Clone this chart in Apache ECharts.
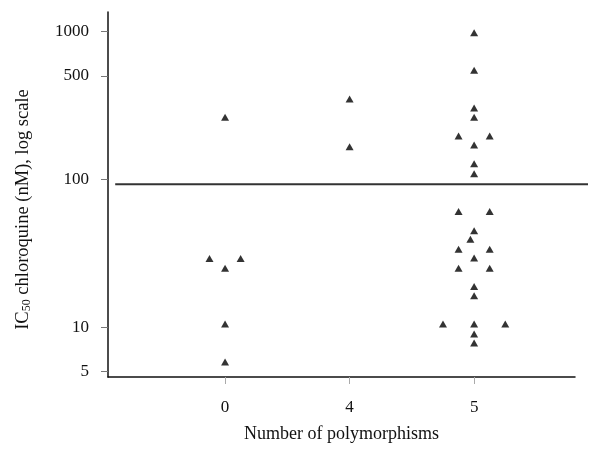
<!DOCTYPE html>
<html>
<head>
<meta charset="utf-8">
<script src="https://cdn.jsdelivr.net/npm/echarts@6/dist/echarts.min.js"></script>
<style>
  html, body { margin: 0; padding: 0; background: #fff; }
  #main { width: 600px; height: 453px; }
</style>
</head>
<body>
<div id="main"></div>
<script>
// categories (number of polymorphisms) and their slot on the x axis
var groups = ['0', '4', '5'];
var groupPos = [1, 2, 3];

// IC50 values per group, with small horizontal jitter so overlapping points show
var g0Values  = [262, 29.1, 29.1, 25, 10.5, 5.8];
var g0Jitter  = [0, -0.125, 0.125, 0, 0, 0];
var g4Values  = [349, 166];
var g4Jitter  = [0, 0];
var g5Values  = [978, 545, 303, 262, 196, 196, 170, 127, 109,
                 60.4, 60.4, 44.9, 39.3, 33.6, 33.6, 29.3, 25, 25,
                 18.8, 16.3, 10.5, 10.5, 10.5, 9.0, 7.8];
var g5Jitter  = [0, 0, 0, 0, -0.125, 0.125, 0, 0, 0,
                 -0.125, 0.125, 0, -0.03, -0.125, 0.125, 0, -0.125, 0.125,
                 0, 0, -0.25, 0, 0.25, 0, 0];

// y tick labels and cut-off line (drawn on its own wider grid, runs past the x axis)
var yTicks = [5, 10, 100, 500, 1000];
var cutoff = 92.5;
var cutoffX = [0.015, 1];

var allValues = [g0Values, g4Values, g5Values];
var allJitter = [g0Jitter, g4Jitter, g5Jitter];

var points = [];
for (var g = 0; g < allValues.length; g++) {
    for (var i = 0; i < allValues[g].length; i++) {
        points.push([groupPos[g] + allJitter[g][i], allValues[g][i]]);
    }
}

var myChart = echarts.init(document.getElementById('main'));
var font = 'Liberation Serif';

var option = {
    animation: false,
    grid: [
        { left: 108, right: 25, top: 12, bottom: 76 },
        { left: 108, right: 12, top: 12, bottom: 76 }
    ],
    xAxis: [{
        type: 'value',
        min: 0.06,
        max: 3.81,
        name: 'Number of polymorphisms',
        nameLocation: 'middle',
        nameGap: 48,
        nameTextStyle: { fontFamily: font, fontSize: 18, color: '#111' },
        axisLine: { lineStyle: { color: '#111', width: 1.5 } },
        splitLine: { show: false },
        axisTick: {
            customValues: groupPos,
            length: 7,
            lineStyle: { color: '#aaa' }
        },
        axisLabel: {
            customValues: groupPos,
            margin: 22,
            fontFamily: font,
            fontSize: 17,
            color: '#111',
            formatter: function (v) { return groups[groupPos.indexOf(v)]; }
        }
    }, {
        type: 'value',
        gridIndex: 1,
        min: 0,
        max: 1,
        show: false
    }],
    yAxis: [{
        type: 'log',
        logBase: 10,
        min: 4.6,
        max: 1350,
        name: '{n|IC}{s|50}{n| chloroquine (nM), log scale}',
        nameLocation: 'middle',
        nameGap: 75,
        nameTextStyle: {
            padding: [0, 30, 0, 0],
            rich: {
                n: { fontFamily: font, fontSize: 18.5, color: '#111' },
                s: { fontFamily: font, fontSize: 12, color: '#111', verticalAlign: 'bottom', padding: [7, 0, 0, 0] }
            }
        },
        axisLine: { lineStyle: { color: '#111', width: 1.5 } },
        splitLine: { show: false },
        axisTick: {
            customValues: yTicks,
            length: 7,
            lineStyle: { color: '#777' }
        },
        axisLabel: {
            customValues: yTicks,
            margin: 19,
            fontFamily: font,
            fontSize: 17,
            color: '#111',
            formatter: function (v) { return String(v); }
        }
    }, {
        type: 'log',
        logBase: 10,
        gridIndex: 1,
        min: 4.6,
        max: 1350,
        show: false
    }],
    series: [
        {
            type: 'scatter',
            symbol: 'triangle',
            symbolSize: [8, 7],
            itemStyle: { color: '#000' },
            data: points
        },
        {
            type: 'line',
            xAxisIndex: 1,
            yAxisIndex: 1,
            symbol: 'none',
            lineStyle: { color: '#333', width: 2 },
            data: [[cutoffX[0], cutoff], [cutoffX[1], cutoff]]
        }
    ]
};

myChart.setOption(option);
</script>
</body>
</html>
